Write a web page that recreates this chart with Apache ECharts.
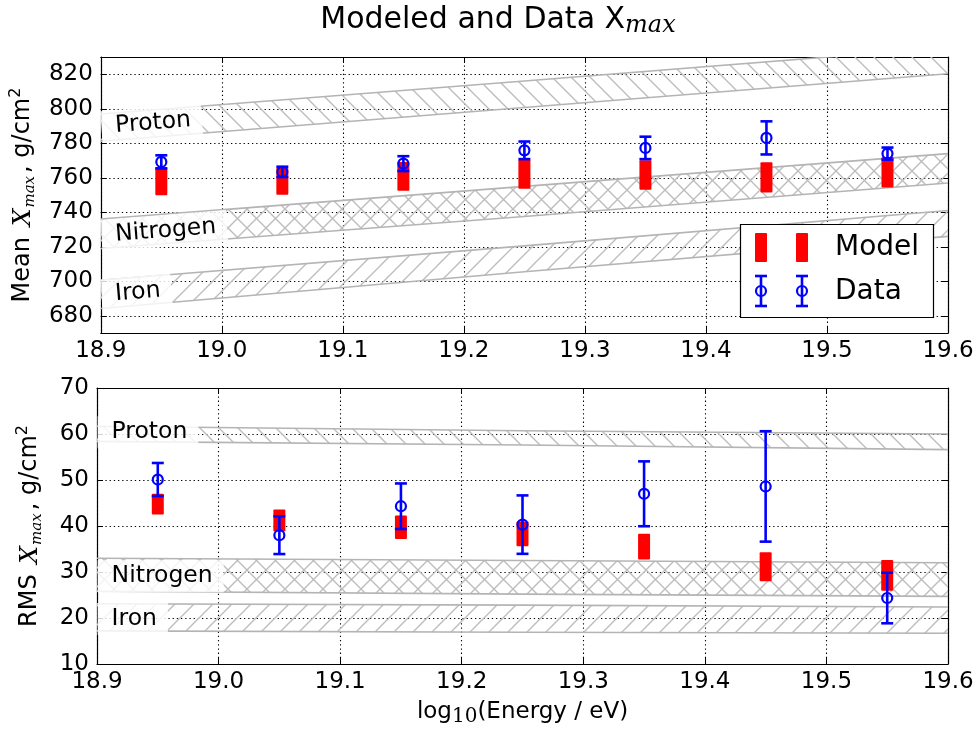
<!DOCTYPE html>
<html><head><meta charset="utf-8">
<script src="https://cdn.jsdelivr.net/npm/echarts@6/dist/echarts.min.js"></script>
<style>html,body{margin:0;padding:0;background:#fff}#c{width:977px;height:731px}</style>
</head><body><div id="c"></div>
<script>
// ---------- data ----------
const energies = [18.95, 19.05, 19.15, 19.25, 19.35, 19.45, 19.55];
const meanModel = [758.0, 758.0, 760.8, 762.1, 761.6, 760.2, 763.2];
const meanModelErr = [8.2, 7.8, 8.4, 8.5, 8.5, 8.8, 8.9];
const meanData = [769.2, 763.4, 768.2, 775.9, 777.3, 783.1, 774.0];
const meanDataErr = [3.8, 3.0, 4.3, 5.1, 6.5, 9.6, 3.5];
const rmsModel = [44.75, 41.2, 39.75, 38.3, 35.5, 31.15, 29.25];
const rmsModelErr = [2.25, 2.4, 2.55, 2.7, 2.8, 3.15, 3.35];
const rmsData = [50.1, 38.0, 44.3, 40.3, 47.0, 48.6, 24.35];
const rmsDataErr = [3.6, 4.1, 4.95, 6.35, 7.05, 12.0, 5.5];

const bandEnergies = [18.9, 19.25, 19.6];
const meanProtonLow = [781.2, 800.7, 820.3];
const meanProtonHigh = [797.0, 816.1, 835.5];
const meanNitrogenLow = [719.0, 737.5, 757.0];
const meanNitrogenHigh = [736.0, 755.0, 774.0];
const meanIronLow = [684.2, 705.5, 726.0];
const meanIronHigh = [700.6, 720.5, 741.0];
const rmsProtonLow = [58.4, 57.6, 56.6];
const rmsProtonHigh = [61.7, 60.7, 60.0];
const rmsNitrogenLow = [25.8, 25.2, 24.7];
const rmsNitrogenHigh = [33.0, 32.5, 32.0];
const rmsIronLow = [17.2, 16.9, 16.7];
const rmsIronHigh = [23.1, 22.8, 22.4];

const bandNames = ['Proton', 'Nitrogen', 'Iron'];
const labelEnergy = 18.912;
const meanLabelY = [790.0, 727.0, 692.5];
const rmsLabelY = [60.4, 29.1, 19.8];

const xTicks = [18.9, 19.6, 0.1];
const meanRange = [670, 830];
const rmsRange = [10, 70, 10];

// ---------- helpers ----------
const FONT = 'DejaVu Sans';
const SERIF = 'DejaVu Serif';
function hatch(kind, s, color, lw) {
  const c = document.createElement('canvas');
  c.width = s; c.height = s;
  const ctx = c.getContext('2d');
  ctx.strokeStyle = color; ctx.lineWidth = lw;
  ctx.beginPath();
  for (let k = -s; k <= s; k += s) {
    if (kind === '\\' || kind === 'x') { ctx.moveTo(k - s, -s); ctx.lineTo(k + 2 * s, 2 * s); }
    if (kind === '/' || kind === 'x') { ctx.moveTo(k - s, 2 * s); ctx.lineTo(k + 2 * s, -s); }
  }
  ctx.stroke();
  return { image: c, repeat: 'repeat' };
}
const HATCH_COL = '#bdbdbd', EDGE_COL = '#b4b4b4';
const patP = hatch('\\', 19, HATCH_COL, 1.4);
const patN = hatch('x', 19, HATCH_COL, 1.4);
const patI = hatch('/', 19, HATCH_COL, 1.4);

function bandSeries(low, high, pat, ai) {
  return {
    type: 'custom', xAxisIndex: ai, yAxisIndex: ai, clip: true, z: 1, silent: true,
    data: bandEnergies.map((e, i) => [e, low[i], high[i]]),
    renderItem: (params, api) => {
      if (params.dataIndex !== 0) return;
      const top = bandEnergies.map((e, i) => api.coord([e, high[i]]));
      const bot = bandEnergies.map((e, i) => api.coord([e, low[i]]));
      return { type: 'group', children: [
        { type: 'polygon', shape: { points: top.concat(bot.slice().reverse()) }, style: { fill: pat, stroke: null } },
        { type: 'polyline', shape: { points: top }, style: { stroke: EDGE_COL, lineWidth: 1.6, fill: null } },
        { type: 'polyline', shape: { points: bot }, style: { stroke: EDGE_COL, lineWidth: 1.6, fill: null } }
      ]};
    }
  };
}
const PADL = 14;
function labelSeries(ys, bands, ai, rotate) {
  return {
    type: 'custom', xAxisIndex: ai, yAxisIndex: ai, z: 2, silent: true,
    data: ys.map((y, i) => [labelEnergy, y, i]),
    renderItem: (params, api) => {
      const i = api.value(2);
      const p = api.coord([api.value(0), api.value(1)]);
      let rot = 0;
      if (rotate) {
        const b = bands[i];
        const a = api.coord([bandEnergies[0], b[0]]);
        const z = api.coord([bandEnergies[bandEnergies.length - 1], b[b.length - 1]]);
        rot = Math.atan2(a[1] - z[1], z[0] - a[0]);
      }
      return { type: 'text', x: p[0] - PADL * Math.cos(rot), y: p[1] + PADL * Math.sin(rot), rotation: rot,
        style: { text: bandNames[i], fill: '#000', font: '23.5px "DejaVu Sans"',
          align: 'left', verticalAlign: 'middle',
          backgroundColor: 'rgba(255,255,255,0.82)', padding: [4, 11, 4, PADL] } };
    }
  };
}
function modelSeries(vals, errs, ai) {
  return {
    type: 'custom', xAxisIndex: ai, yAxisIndex: ai, z: 3, silent: true,
    data: energies.map((e, i) => [e, vals[i], errs[i]]),
    renderItem: (params, api) => {
      const x = api.value(0), y = api.value(1), e = api.value(2);
      const t = api.coord([x, y + e]), b = api.coord([x, y - e]);
      return { type: 'rect', shape: { x: t[0] - 6, y: t[1], width: 12, height: b[1] - t[1], r: 1 },
        style: { fill: '#ff0000' } };
    }
  };
}
function dataSeries(vals, errs, ai) {
  const blue = '#0000ff';
  return {
    type: 'custom', xAxisIndex: ai, yAxisIndex: ai, z: 4, silent: true,
    data: energies.map((e, i) => [e, vals[i], errs[i]]),
    renderItem: (params, api) => {
      const x = api.value(0), y = api.value(1), e = api.value(2);
      const c = api.coord([x, y]), t = api.coord([x, y + e]), b = api.coord([x, y - e]);
      const ls = { stroke: blue, lineWidth: 2.6 };
      return { type: 'group', children: [
        { type: 'line', shape: { x1: c[0], y1: t[1], x2: c[0], y2: b[1] }, style: ls },
        { type: 'line', shape: { x1: c[0] - 6, y1: t[1], x2: c[0] + 6, y2: t[1] }, style: ls },
        { type: 'line', shape: { x1: c[0] - 6, y1: b[1], x2: c[0] + 6, y2: b[1] }, style: ls },
        { type: 'circle', shape: { cx: c[0], cy: c[1], r: 5 }, style: { stroke: blue, lineWidth: 2.2, fill: null } }
      ]};
    }
  };
}

const axisLine = { show: true, lineStyle: { color: '#000', width: 1.2 } };
const tick = { show: true, inside: true, length: 6, lineStyle: { color: '#000', width: 1 } };
const grid = { show: true, lineStyle: { color: '#000', width: 1.1, type: [1.3, 2.9] } };
const tickLabel = { color: '#000', fontFamily: FONT, fontSize: 23 };
const subRich = {
  n: { fontFamily: FONT, fontSize: 24, color: '#000', lineHeight: 30 },
  i: { fontFamily: SERIF, fontStyle: 'italic', fontSize: 25, color: '#000', lineHeight: 30, padding: [0, 1, 0, 3] },
  s: { fontFamily: SERIF, fontStyle: 'italic', fontSize: 15, color: '#000', lineHeight: 17, verticalAlign: 'bottom', padding: [0, 3, 0, 0] },
  p: { fontFamily: FONT, fontSize: 16, color: '#000', lineHeight: 17, verticalAlign: 'top' }
};
const xRich = {
  n: { fontFamily: FONT, fontSize: 23, color: '#000', lineHeight: 30 },
  d: { fontFamily: SERIF, fontSize: 20, color: '#000', lineHeight: 22, verticalAlign: 'bottom' }
};

function xAxes(gi, labels) {
  return [
    { type: 'value', gridIndex: gi, position: 'bottom', min: xTicks[0], max: xTicks[1], interval: xTicks[2],
      axisLine, axisTick: tick, splitLine: grid,
      axisLabel: { show: true, ...tickLabel, margin: 7, formatter: v => v.toFixed(1) },
      name: labels ? '{n|log}{d|10}{n|(Energy / eV)}' : '', nameLocation: 'middle', nameGap: 33,
      nameTextStyle: { rich: xRich } },
    { type: 'value', gridIndex: gi, position: 'top', min: xTicks[0], max: xTicks[1], interval: xTicks[2],
      axisLine, axisTick: tick, splitLine: { show: false }, axisLabel: { show: false } }
  ];
}

const L = 100; // legend z
const blue = '#0000ff';
const option = {
  animation: false,
  backgroundColor: '#fff',
  grid: [
    { left: 97, right: 29, top: 57, height: 276 },
    { left: 97, right: 29, top: 388, height: 276 }
  ],
  xAxis: [...xAxes(0, false), ...xAxes(1, true)],
  yAxis: [
    { type: 'value', gridIndex: 0, position: 'left', min: meanRange[0], max: meanRange[1], splitNumber: 8,
      axisLine, axisTick: tick, splitLine: grid,
      axisLabel: { ...tickLabel, margin: 8, showMinLabel: false, showMaxLabel: false },
      name: '{n|Mean }{i|X}{s|max}{n|, g/cm}{p|2}', nameLocation: 'middle', nameRotate: 90, nameGap: 52,
      nameTextStyle: { rich: subRich } },
    { type: 'value', gridIndex: 0, position: 'right', min: meanRange[0], max: meanRange[1], splitNumber: 8,
      axisLine, axisTick: tick, splitLine: { show: false }, axisLabel: { show: false } },
    { type: 'value', gridIndex: 1, position: 'left', min: rmsRange[0], max: rmsRange[1], interval: rmsRange[2],
      axisLine, axisTick: tick, splitLine: grid,
      axisLabel: { ...tickLabel, margin: 8 },
      name: '{n|RMS }{i|X}{s|max}{n|, g/cm}{p|2}', nameLocation: 'middle', nameRotate: 90, nameGap: 52,
      nameTextStyle: { rich: subRich } },
    { type: 'value', gridIndex: 1, position: 'right', min: rmsRange[0], max: rmsRange[1], interval: rmsRange[2],
      axisLine, axisTick: tick, splitLine: { show: false }, axisLabel: { show: false } }
  ],
  series: [
    bandSeries(meanProtonLow, meanProtonHigh, patP, 0),
    bandSeries(meanNitrogenLow, meanNitrogenHigh, patN, 0),
    bandSeries(meanIronLow, meanIronHigh, patI, 0),
    bandSeries(rmsProtonLow, rmsProtonHigh, patP, 2),
    bandSeries(rmsNitrogenLow, rmsNitrogenHigh, patN, 2),
    bandSeries(rmsIronLow, rmsIronHigh, patI, 2),
    labelSeries(meanLabelY, [meanProtonLow, meanNitrogenLow, meanIronLow], 0, true),
    labelSeries(rmsLabelY, [rmsProtonLow, rmsNitrogenLow, rmsIronLow], 2, false),
    modelSeries(meanModel, meanModelErr, 0),
    dataSeries(meanData, meanDataErr, 0),
    modelSeries(rmsModel, rmsModelErr, 2),
    dataSeries(rmsData, rmsDataErr, 2)
  ],
  graphic: [
    { type: 'text', x: 498, y: 20, z: L,
      style: { text: '{a|Modeled and Data X}{b|max}', align: 'center', verticalAlign: 'middle',
        rich: { a: { fontFamily: FONT, fontSize: 30, fill: '#000', lineHeight: 36 },
                b: { fontFamily: SERIF, fontStyle: 'italic', fontSize: 24, fill: '#000', lineHeight: 24, verticalAlign: 'bottom' } } } },
    { type: 'rect', z: L, shape: { x: 740.5, y: 224.5, width: 193, height: 93 }, style: { fill: '#fff', stroke: '#000', lineWidth: 1.2 } },
    { type: 'rect', z: L + 1, shape: { x: 755, y: 233, width: 12, height: 29, r: 1 }, style: { fill: '#ff0000' } },
    { type: 'rect', z: L + 1, shape: { x: 796, y: 233, width: 12, height: 29, r: 1 }, style: { fill: '#ff0000' } },
    { type: 'text', z: L + 1, x: 835, y: 248, style: { text: 'Model', font: '28px "DejaVu Sans"', fill: '#000', verticalAlign: 'middle' } },
    ...[761, 802].flatMap(cx => [
      { type: 'line', z: L + 1, shape: { x1: cx, y1: 276, x2: cx, y2: 306 }, style: { stroke: blue, lineWidth: 2.6 } },
      { type: 'line', z: L + 1, shape: { x1: cx - 6, y1: 276, x2: cx + 6, y2: 276 }, style: { stroke: blue, lineWidth: 2.6 } },
      { type: 'line', z: L + 1, shape: { x1: cx - 6, y1: 306, x2: cx + 6, y2: 306 }, style: { stroke: blue, lineWidth: 2.6 } },
      { type: 'circle', z: L + 2, shape: { cx: cx, cy: 291, r: 5 }, style: { stroke: blue, lineWidth: 2.2, fill: null } }
    ]),
    { type: 'text', z: L + 1, x: 835, y: 292, style: { text: 'Data', font: '28px "DejaVu Sans"', fill: '#000', verticalAlign: 'middle' } }
  ]
};
const chart = echarts.init(document.getElementById('c'), null, { renderer: 'canvas' });
chart.setOption(option);
</script>
</body></html>
